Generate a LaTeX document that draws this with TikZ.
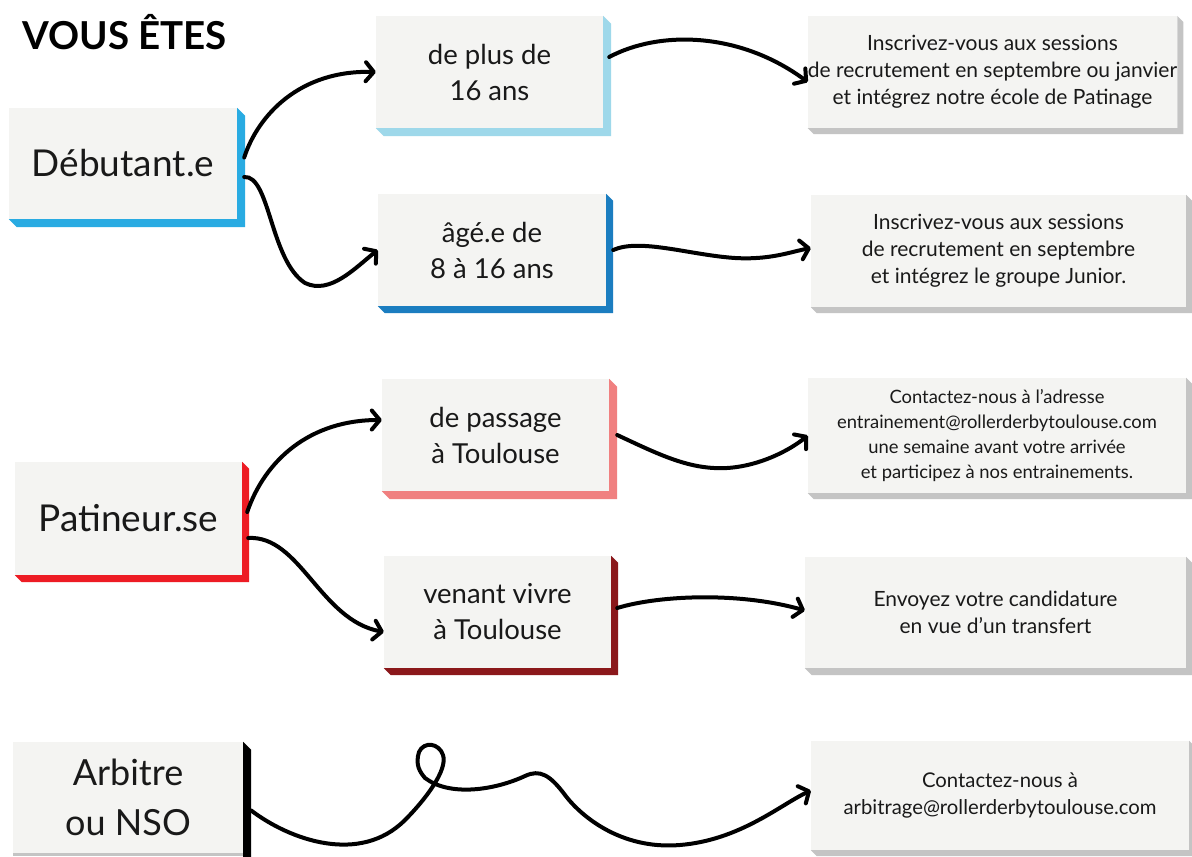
\documentclass[tikz,border=0pt]{standalone}
\usepackage{fontspec}
\setmainfont{Lato}
\usepackage{xcolor}
\definecolor{colorFace}{HTML}{F4F4F2}
\definecolor{colorShade}{HTML}{C4C4C4}
\definecolor{colorDebutant}{HTML}{29ABE2}
\definecolor{colorPlus}{HTML}{9ED8EA}
\definecolor{colorJunior}{HTML}{1B7DC0}
\definecolor{colorPatin}{HTML}{ED1C24}
\definecolor{colorPassage}{HTML}{F08080}
\definecolor{colorVivre}{HTML}{8B181B}
\usetikzlibrary{arrows.meta}
\tikzset{
  face/.style={fill=colorFace, inner sep=0pt, align=center, text=black!90},
  cat/.style={face, minimum height=112, font=\fontsize{37}{50}\selectfont},
  mid/.style={face, minimum width=227, minimum height=112, font=\fontsize{27.5}{36}\selectfont},
  info/.style={face, font=\fontsize{21}{27}\selectfont},
  arr/.style={line width=4pt, line cap=round, -{Straight Barb[length=8pt,width=19pt,line cap=round,line join=round]}}
}
\begin{document}
\begin{tikzpicture}[x=1pt, y=-1pt]
\fill[white] (0,0) rectangle (1192,857);
\useasboundingbox (0,0) rectangle (1192,857);
\node[anchor=west, font=\fontsize{38.5}{40}\selectfont\bfseries] (t0) at (19,32) {VOUS ÊTES};
% categories
\node[cat, minimum width=228, minimum height=111] (k1) at (123,163.5) {Débutant.e};
\node[cat, minimum width=227, minimum height=113] (k2) at (128.5,518.5) {Patineur.se};
\node[cat, minimum width=230, minimum height=111, font=\fontsize{36}{50}\selectfont] (k3) at (128,797.5) {Arbitre\\ou NSO};
% ages
\node[mid] (m1) at (489.5,72) {de plus de\\16 ans};
\node[mid, minimum width=228] (m2) at (492,250) {âgé.e de\\8 à 16 ans};
\node[mid] (m3) at (495.5,435) {de passage\\à Toulouse};
\node[mid] (m4) at (497.5,612) {venant vivre\\à Toulouse};
% answers
\node[info, minimum width=361, minimum height=112] (r1) at (992.5,72) {Inscrivez-vous aux sessions\\de recrutement en septembre ou janvier\\et intégrez notre école de Patinage};
\node[info, minimum width=375, minimum height=112] (r2) at (998.5,251) {Inscrivez-vous aux sessions\\de recrutement en septembre\\et intégrez le groupe Junior.};
\node[info, minimum width=378, minimum height=115, font=\fontsize{18.4}{25}\selectfont] (r3) at (997,435.5) {Contactez-nous à l'adresse\\entrainement@rollerderbytoulouse.com\\une semaine avant votre arrivée\\et participez à nos entrainements.};
\node[info, minimum width=381, minimum height=111] (r4) at (995.5,612.5) {Envoyez votre candidature\\en vue d'un transfert};
\node[info, minimum width=378, minimum height=109, font=\fontsize{20.3}{27}\selectfont] (r5) at (1000,795.5) {Contactez-nous à\\arbitrage@rollerderbytoulouse.com};
% extruded edges
\foreach \n/\c/\d in {k1/colorDebutant/8, k2/colorPatin/7, m1/colorPlus/8, m2/colorJunior/7, m3/colorPassage/8, m4/colorVivre/7, r1/colorShade/6, r2/colorShade/6, r3/colorShade/6, r4/colorShade/7, r5/colorShade/6}
  \fill[\c] (\n.north east) -- ++(\d,\d) -- ([shift={(\d,\d)}]\n.south east) -- ([shift={(\d,\d)}]\n.south west) -- (\n.south west) -- (\n.south east) -- cycle;
\fill[colorShade] (k3.south west) rectangle ([yshift=-3pt]k3.south east);
\fill[black] (k3.north east) -- ++(8,8) -- ([xshift=8pt,yshift=-8pt]k3.south east) -- ([yshift=-8pt]k3.south east) -- cycle;
% arrows
\draw[arr] ([xshift=7pt,yshift=6pt]k1.east) .. controls (258,115) and (300,70) .. (m1.west);
\draw[arr] ([xshift=7pt,yshift=-13.5pt]k1.east) .. controls (270,175) and (270,260) .. (305,283) .. controls (330,295) and (355,268) .. (m2.west);
\draw[arr] ([xshift=6pt,yshift=15pt]m1.east) .. controls (660,30) and (740,32) .. ([yshift=-10pt]r1.west);
\draw[arr] ([xshift=7pt]m2.east) .. controls (640,238) and (690,255) .. (735,258) .. controls (770,260) and (790,252) .. ([yshift=3pt]r2.west);
\draw[arr] ([xshift=8pt]m3.east) .. controls (660,455) and (690,470) .. (727,468) .. controls (760,466) and (790,450) .. (r3.west);
\draw[arr] ([xshift=5pt,yshift=6.5pt]k2.east) .. controls (265,460) and (310,420) .. ([yshift=15pt]m3.west);
\draw[arr] ([xshift=6pt,yshift=-19.5pt]k2.east) .. controls (300,535) and (320,620) .. ([yshift=-20pt]m4.west);
\draw[arr] ([xshift=6pt,yshift=4pt]m4.east) .. controls (660,595) and (740,592) .. ([yshift=2pt]r4.west);
\draw[arr] ([xshift=8pt,yshift=-13pt]k3.east) .. controls (290,840) and (360,865) .. (405,820)
  .. controls (425,800) and (448,770) .. (443,755) .. controls (439,743) and (424,741) .. (419,752)
  .. controls (415,765) and (420,772) .. (425,778) .. controls (450,797) and (495,790) .. (525,776)
  .. controls (540,769) and (550,775) .. (565,795) .. controls (580,815) and (620,850) .. (680,845)
  .. controls (740,840) and (780,805) .. ([yshift=5pt]r5.west);
\end{tikzpicture}
\end{document}
